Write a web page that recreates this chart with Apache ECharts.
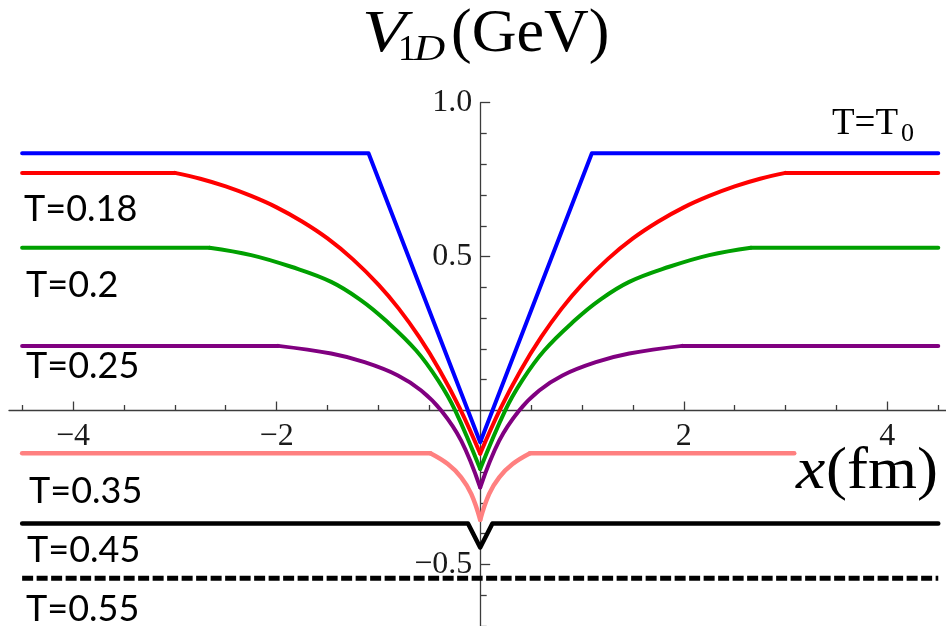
<!DOCTYPE html>
<html>
<head>
<meta charset="utf-8">
<script src="https://cdn.jsdelivr.net/npm/echarts@6/dist/echarts.min.js"></script>
<style>
  html, body { margin: 0; padding: 0; background: #fff; }
  #chart { width: 946px; height: 626px; }
</style>
</head>
<body>
<div id="chart"></div>
<script>
// Tick positions and labels
const xTicksMajor = [-4, -2, 2, 4];
const xTicksMinor = [-4.5, -3.5, -3, -2.5, -1.5, -1, -0.5, 0.5, 1, 1.5, 2.5, 3, 3.5, 4.5];
const yTicksMajor = [-0.5, 0.5, 1.0];
const yTicksMinor = [-0.7, -0.6, -0.4, -0.3, -0.2, -0.1, 0.1, 0.2, 0.3, 0.4, 0.6, 0.7, 0.8, 0.9];

// Plotted x domain (fm)
const xDomain = [-4.5, 4.5];

// Potentials as functions of |x|: inner profile points [|x|, V] and the flat value beyond
const blueProfile = [[0, -0.103], [1.097, 0.836]];
const bluePlateau = 0.836;

const redProfile = [[0, -0.14], [0.2, 0.007], [0.4, 0.132], [0.6, 0.239], [0.8, 0.331], [1.0, 0.409],
  [1.25, 0.491], [1.5, 0.559], [1.75, 0.614], [2.0, 0.660], [2.25, 0.697], [2.5, 0.728], [2.75, 0.753], [3.0, 0.772]];
const redPlateau = 0.772;

const greenProfile = [[0, -0.19], [0.245, 0], [0.413, 0.098], [0.629, 0.195], [0.93, 0.293], [1.17, 0.358],
  [1.464, 0.418], [1.857, 0.467], [2.25, 0.505], [2.66, 0.529]];
const greenPlateau = 0.529;

const purpleProfile = [[0, -0.25], [0.187, -0.098], [0.383, 0], [0.58, 0.065], [0.808, 0.114], [1.136, 0.157],
  [1.464, 0.185], [1.985, 0.210]];
const purplePlateau = 0.210;

const pinkProfile = [[0, -0.355], [0.088, -0.271], [0.187, -0.217], [0.318, -0.174], [0.49, -0.139]];
const pinkPlateau = -0.139;
const pinkRightEnd = 3.085;

const blackProfile = [[0, -0.445], [0.12, -0.367]];
const blackPlateau = -0.367;

const dashedLevel = -0.545;

// Temperature labels
const tempLabels = ['T=0.18', 'T=0.2', 'T=0.25', 'T=0.35', 'T=0.45', 'T=0.55'];

const SERIF = '"Liberation Serif", "DejaVu Serif", serif';
const SANS = 'Lato, "Open Sans", sans-serif';

function mirror(profile) {
  return profile.map(([x, y]) => [-x, y]).reverse();
}

function seg(data, color, width, smooth, extra) {
  return Object.assign({
    type: 'line',
    data: data,
    symbol: 'none',
    smooth: smooth ? 0.4 : false,
    silent: true,
    animation: false,
    lineStyle: { color: color, width: width, cap: 'round', join: 'round' }
  }, extra || {});
}

// One potential curve: flat left, curved left half, curved right half, flat right
function potential(profile, plateau, color, width, rightEnd, z) {
  const cut = profile[profile.length - 1][0];
  const end = rightEnd == null ? xDomain[1] : rightEnd;
  return [
    seg([[xDomain[0], plateau], [-cut, plateau]], color, width, false, { z: z }),
    seg(mirror(profile), color, width, true, { z: z }),
    seg(profile, color, width, true, { z: z }),
    seg([[cut, plateau], [end, plateau]], color, width, false, { z: z })
  ];
}

const series = [].concat(
  [seg([[xDomain[0], dashedLevel], [xDomain[1], dashedLevel]], '#000', 5, false,
    { z: 2, lineStyle: { color: '#000', width: 5, type: [11, 3.5], cap: 'butt' } })],
  [seg([[xDomain[0], blackPlateau]].concat(mirror(blackProfile), blackProfile.slice(1), [[xDomain[1], blackPlateau]]),
    '#000', 4.5, false, { z: 3 })],
  potential(pinkProfile, pinkPlateau, '#ff8080', 4.5, pinkRightEnd, 4),
  potential(purpleProfile, purplePlateau, '#800080', 4, null, 5),
  potential(greenProfile, greenPlateau, '#00a000', 4, null, 6),
  potential(redProfile, redPlateau, '#ff0000', 4, null, 7),
  [seg([[xDomain[0], bluePlateau]].concat(mirror(blueProfile), blueProfile.slice(1), [[xDomain[1], bluePlateau]]),
    '#0000ff', 4, false, { z: 8 })]
);

const axisColor = '#3c3c3c';
const xMin = -4.629, xMax = 4.576;
const yMin = -0.70, yMax = 1.0;

// Grid box in pixels
const W = 946, H = 626;
const gLeft = 9, gRight = 0, gTop = 102.7, gBottom = 0;
const gW = W - gLeft - gRight, gH = H - gTop - gBottom;
// Axes cross at the origin: shift them inward from the grid edges
const xAxisShift = -gH * (0 - yMin) / (yMax - yMin);
const yAxisShift = -gW * (0 - xMin) / (xMax - xMin);

function fmt(v) {
  const a = Math.abs(v);
  const s = a === 1 ? '1.0' : String(a);
  return (v < 0 ? '\u2212' : '') + s;
}

const labelStyle = { fontFamily: SERIF, fontSize: 32, color: '#1a1a1a' };

function xAxisDef(ticks, len, withLine, withLabels) {
  return {
    type: 'value', min: xMin, max: xMax, position: 'bottom', offset: xAxisShift,
    axisLine: { show: withLine, onZero: false, lineStyle: { color: axisColor, width: 1.3 } },
    axisTick: { show: true, inside: true, length: len, customValues: ticks, lineStyle: { color: axisColor, width: 1.3 } },
    axisLabel: withLabels ? Object.assign({ show: true, customValues: ticks, margin: 10, formatter: fmt }, labelStyle) : { show: false },
    splitLine: { show: false }
  };
}
function yAxisDef(ticks, len, withLine, withLabels) {
  return {
    type: 'value', min: yMin, max: yMax, position: 'left', offset: yAxisShift,
    axisLine: { show: withLine, onZero: false, lineStyle: { color: axisColor, width: 1.3 } },
    axisTick: { show: true, inside: true, length: len, customValues: ticks, lineStyle: { color: axisColor, width: 1.3 } },
    axisLabel: withLabels ? Object.assign({ show: true, customValues: ticks, margin: 8, formatter: fmt }, labelStyle) : { show: false },
    splitLine: { show: false }
  };
}

const option = {
  animation: false,
  backgroundColor: '#fff',
  grid: { left: gLeft, right: gRight, top: gTop, bottom: gBottom, containLabel: false, outerBoundsMode: 'none' },
  xAxis: [xAxisDef(xTicksMajor, 9, true, true), xAxisDef(xTicksMinor, 5.5, false, false)],
  yAxis: [yAxisDef(yTicksMajor, 10, true, true), yAxisDef(yTicksMinor, 6.5, false, false)],
  series: series,
  graphic: [
    // axis titles
    { type: 'text', x: 362, y: 35, scaleX: 1.2, style: { text: 'V', font: 'italic 60px ' + SERIF, fill: '#000', verticalAlign: 'middle' } },
    { type: 'text', x: 398, y: 51, style: { text: '1', font: '36px ' + SERIF, fill: '#000', verticalAlign: 'middle' } },
    { type: 'text', x: 414, y: 51, scaleX: 1.2, style: { text: 'D', font: 'italic 36px ' + SERIF, fill: '#000', verticalAlign: 'middle' } },
    { type: 'text', x: 451, y: 35, style: { text: '(GeV)', font: '62px ' + SERIF, fill: '#000', verticalAlign: 'middle' } },
    { type: 'text', x: 796, y: 472, scaleX: 1.1, style: { text: 'x', font: 'italic 60px ' + SERIF, fill: '#000', verticalAlign: 'middle' } },
    { type: 'text', x: 826, y: 472, scaleX: 1.05, style: { text: '(fm)', font: '60px ' + SERIF, fill: '#000', verticalAlign: 'middle' } },
    // curve annotations
    { type: 'text', x: 832, y: 124, style: { text: 'T=T', font: '37px ' + SERIF, fill: '#000', verticalAlign: 'middle' } },
    { type: 'text', x: 901, y: 134, style: { text: '0', font: '26px ' + SERIF, fill: '#000', verticalAlign: 'middle' } },
    { type: 'text', x: 24, y: 209.5, style: { text: tempLabels[0], font: '36px ' + SANS, fill: '#000', verticalAlign: 'middle' } },
    { type: 'text', x: 26, y: 285.5, style: { text: tempLabels[1], font: '36px ' + SANS, fill: '#000', verticalAlign: 'middle' } },
    { type: 'text', x: 26, y: 366, style: { text: tempLabels[2], font: '36px ' + SANS, fill: '#000', verticalAlign: 'middle' } },
    { type: 'text', x: 29, y: 491.5, style: { text: tempLabels[3], font: '36px ' + SANS, fill: '#000', verticalAlign: 'middle' } },
    { type: 'text', x: 27, y: 550.5, style: { text: tempLabels[4], font: '36px ' + SANS, fill: '#000', verticalAlign: 'middle' } },
    { type: 'text', x: 26, y: 609.5, style: { text: tempLabels[5], font: '36px ' + SANS, fill: '#000', verticalAlign: 'middle' } }
  ]
};

const chart = echarts.init(document.getElementById('chart'), null, { renderer: 'canvas' });
chart.setOption(option);
</script>
</body>
</html>
